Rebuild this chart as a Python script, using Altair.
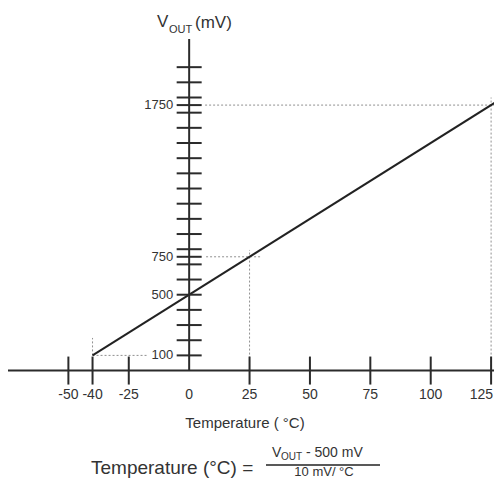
import altair as alt
import pandas as pd

# ---- data ----
x_tick_values = [-50, -40, -25, 25, 50, 75, 100, 125]
x_label_values = [-50, -40, -25, 0, 25, 50, 75, 100]
x_edge_label = [125]
y_tick_values = [100, 200, 300, 400, 500, 600, 700, 800, 900, 1000,
                 1100, 1200, 1300, 1400, 1500, 1600, 1700, 1800, 1900, 2000,
                 750, 1750]
y_label_values = [100, 500, 750, 1750]

line_temp = [-40, 132]
line_vout = [100, 1820]

guide_x = [-40, -40, 7, 25, 6.6, 125]
guide_x2 = [-40, -17, 30, 25, 132, 125]
guide_y = [100, 100, 750, 0, 1750, 0]
guide_y2 = [215, 100, 750, 795, 1750, 1800]

axis_x = [-75, 0]
axis_x2 = [132, 0]
axis_y = [0, 0]
axis_y2 = [0, 2185]

X_DOMAIN = [-75, 126.2]
Y_DOMAIN = [-728, 2390]

FONT = "Liberation Sans"
INK = "#2b2b2b"
TXT = "#333333"

xs = alt.Scale(domain=X_DOMAIN, nice=False, zero=False)
ys = alt.Scale(domain=Y_DOMAIN, nice=False, zero=False)

line_df = pd.DataFrame({"t": line_temp, "v": line_vout})
guide_df = pd.DataFrame({"x": guide_x, "x2": guide_x2, "y": guide_y, "y2": guide_y2})
axis_df = pd.DataFrame({"x": axis_x, "x2": axis_x2, "y": axis_y, "y2": axis_y2})
xt_df = pd.DataFrame({"x": x_tick_values, "y": [0] * len(x_tick_values)})
xl_df = pd.DataFrame({"x": x_label_values, "y": [0] * len(x_label_values),
                      "lab": [str(v) for v in x_label_values]})
xe_df = pd.DataFrame({"x": x_edge_label, "y": [0] * len(x_edge_label),
                      "lab": [str(v) for v in x_edge_label]})
yt_df = pd.DataFrame({"x": [0] * len(y_tick_values), "y": y_tick_values})
yl_df = pd.DataFrame({"x": [0] * len(y_label_values), "y": y_label_values,
                      "lab": [str(v) for v in y_label_values]})

guides = alt.Chart(guide_df).mark_rule(
    strokeDash=[2, 2], color="#909090", strokeWidth=1, clip=True
).encode(
    x=alt.X("x:Q", scale=xs, axis=None), x2="x2:Q",
    y=alt.Y("y:Q", scale=ys, axis=None), y2="y2:Q",
)

axes = alt.Chart(axis_df).mark_rule(color=INK, strokeWidth=2, clip=True).encode(
    x=alt.X("x:Q", scale=xs, axis=None), x2="x2:Q",
    y=alt.Y("y:Q", scale=ys, axis=None), y2="y2:Q",
)

xticks = alt.Chart(xt_df).mark_tick(
    orient="vertical", size=28, thickness=2, color=INK, opacity=1
).encode(
    x=alt.X("x:Q", scale=xs, axis=None),
    y=alt.Y("y:Q", scale=ys, axis=None),
)

yticks = alt.Chart(yt_df).mark_tick(
    orient="horizontal", size=25, thickness=2, color=INK, opacity=1
).encode(
    x=alt.X("x:Q", scale=xs, axis=None),
    y=alt.Y("y:Q", scale=ys, axis=None),
)

xlabels = alt.Chart(xl_df).mark_text(
    font=FONT, fontSize=14, color=TXT, align="center", baseline="alphabetic", dy=28
).encode(
    x=alt.X("x:Q", scale=xs, axis=None),
    y=alt.Y("y:Q", scale=ys, axis=None),
    text="lab:N",
)

xedge = alt.Chart(xe_df).mark_text(
    font=FONT, fontSize=14, color=TXT, align="right", baseline="alphabetic", dy=28, dx=2
).encode(
    x=alt.X("x:Q", scale=xs, axis=None),
    y=alt.Y("y:Q", scale=ys, axis=None),
    text="lab:N",
)

ylabels = alt.Chart(yl_df).mark_text(
    font=FONT, fontSize=13, color=TXT, align="right", baseline="middle", dx=-16
).encode(
    x=alt.X("x:Q", scale=xs, axis=None),
    y=alt.Y("y:Q", scale=ys, axis=None),
    text="lab:N",
)

line = alt.Chart(line_df).mark_line(color="#222222", strokeWidth=2, clip=True).encode(
    x=alt.X("t:Q", scale=xs, axis=None),
    y=alt.Y("v:Q", scale=ys, axis=None),
)


def label(txt, x, y, size, align="left"):
    return alt.Chart(pd.DataFrame({"a": [0]})).mark_text(
        text=txt, font=FONT, fontSize=size, color=TXT, align=align, baseline="alphabetic"
    ).encode(x=alt.value(x), y=alt.value(y))


texts = [
    label("V", 149, 19, 17),
    label("OUT", 161, 25, 11),
    label("(mV)", 187, 20, 17),
    label("Temperature ( °C)", 237, 420, 15, align="center"),
    label("Temperature (°C) =", 83, 466, 19),
    label("V", 264, 449, 14),
    label("OUT", 273, 452, 10),
    label("- 500 mV", 298, 449, 14),
    label("10 mV/ °C", 316, 468, 13, align="center"),
]

bar = alt.Chart(pd.DataFrame({"a": [0]})).mark_rule(color="#222222", strokeWidth=1.5).encode(
    x=alt.value(258), x2=alt.value(372), y=alt.value(457)
)

chart = alt.layer(guides, line, axes, xticks, yticks, xlabels, xedge, ylabels, bar, *texts).properties(
    width=486, height=473, padding=0, autosize=alt.AutoSizeParams(type="none")
).configure_view(stroke=None)

chart.save("out.html", embed_options={"renderer": "svg", "actions": False})
